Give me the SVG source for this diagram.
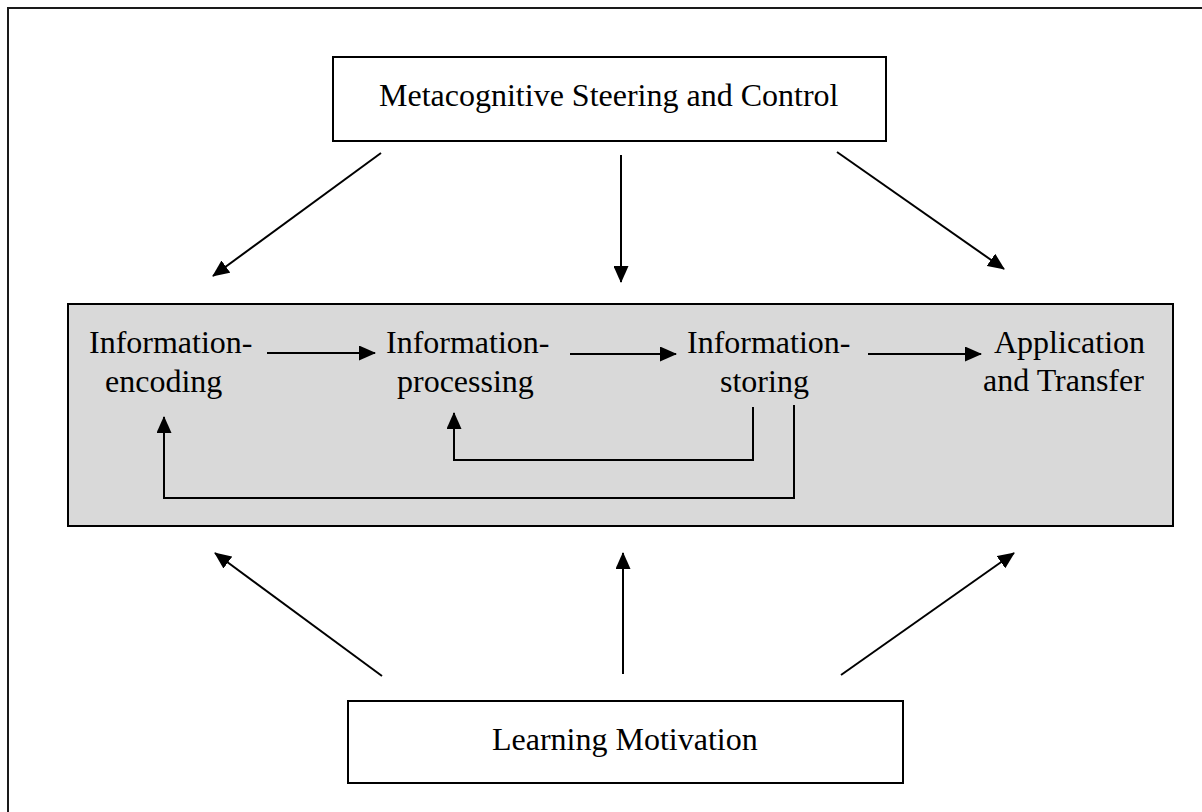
<svg xmlns="http://www.w3.org/2000/svg" width="1202" height="812" viewBox="0 0 1202 812">
  <style>
    .box { fill: #ffffff; stroke: #000000; stroke-width: 2; }
    .panel { fill: #d9d9d9; stroke: #000000; stroke-width: 2; }
    .frame { fill: none; stroke: #1a1a1a; stroke-width: 2; }
    .lbl { font-family: "Liberation Serif", "Times New Roman", serif; font-size: 32px; fill: #000000; }
    .conn { fill: none; stroke: #000000; stroke-width: 2; marker-end: url(#arrow); }
    .plain { fill: none; stroke: #000000; stroke-width: 2; }
  </style>
  <defs>
    <marker id="arrow" markerUnits="userSpaceOnUse" markerWidth="17" markerHeight="15" refX="16" refY="7.5" orient="auto">
      <path d="M0,0 L17,7.5 L0,15 z" fill="#000000"/>
    </marker>
  </defs>

  <rect width="1202" height="812" fill="#ffffff"/>
  <!-- outer frame -->
  <rect class="frame" x="8" y="8" width="1200" height="810"/>

  <!-- process panel -->
  <g id="process-panel">
    <rect class="panel" x="68" y="304" width="1105" height="222"/>
  </g>

  <g id="metacognitive">
    <rect class="box" x="333" y="57" width="553" height="84"/>
    <text class="lbl" x="379" y="106">Metacognitive Steering and Control</text>
  </g>

  <g id="encoding">
    <text class="lbl" x="89" y="353">Information-</text>
    <text class="lbl" x="105" y="392">encoding</text>
  </g>

  <g id="processing">
    <text class="lbl" x="386" y="353">Information-</text>
    <text class="lbl" x="397" y="392">processing</text>
  </g>

  <g id="storing">
    <text class="lbl" x="687" y="353">Information-</text>
    <text class="lbl" x="720" y="392">storing</text>
  </g>

  <g id="application">
    <text class="lbl" x="994" y="353">Application</text>
    <text class="lbl" x="983" y="391">and Transfer</text>
  </g>

  <g id="motivation">
    <rect class="box" x="348" y="701" width="555" height="82"/>
    <text class="lbl" x="492" y="750">Learning Motivation</text>
  </g>

  <g id="connectors">
    <!-- steering arrows -->
    <path class="conn" d="M381,153 L213,276"/>
    <path class="conn" d="M621,155 L621,282"/>
    <path class="conn" d="M837,152 L1004,269"/>
    <!-- motivation arrows -->
    <path class="conn" d="M382,676 L215,553"/>
    <path class="conn" d="M623,674 L623,553"/>
    <path class="conn" d="M841,675 L1014,553"/>
    <!-- process chain -->
    <path class="conn" d="M267,353 L375,353"/>
    <path class="conn" d="M570,354 L676,354"/>
    <path class="conn" d="M868,354 L981,354"/>
    <!-- feedback loops -->
    <path class="conn" d="M753,407 L753,460 L454,460 L454,413"/>
    <path class="conn" d="M794,405 L794,498 L164,498 L164,417"/>
  </g>
</svg>
